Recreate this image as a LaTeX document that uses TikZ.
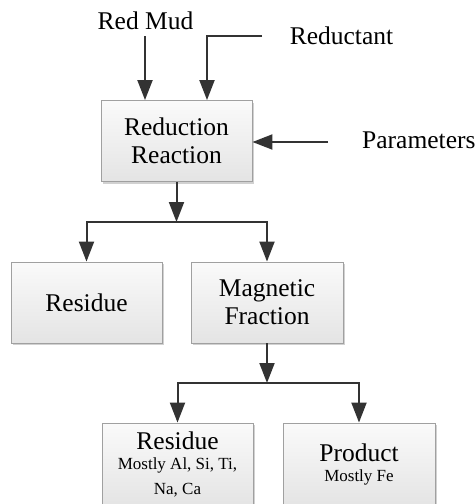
\documentclass[tikz,border=0pt]{standalone}
\usepackage{fontspec}
\setmainfont{Liberation Serif}
\usetikzlibrary{arrows.meta,shadows}
\definecolor{boxline}{HTML}{A0A0A0}
\definecolor{flow}{HTML}{333333}
\definecolor{boxtop}{HTML}{FAFAFA}
\definecolor{boxbot}{HTML}{E4E4E4}
\begin{document}
\begin{tikzpicture}[x=1pt,y=-1pt,
  stage/.style={draw=boxline, line width=0.9pt, top color=boxtop, bottom color=boxbot,
    minimum width=151pt, minimum height=81pt, inner sep=0pt, align=center,
    font=\fontsize{25.5}{28}\selectfont,
    drop shadow={shadow xshift=2pt, shadow yshift=-2pt, fill=black, opacity=0.18}},
  flowarrow/.style={draw=flow, line width=2pt, -{Triangle[length=20pt,width=15pt]}},
  tag/.style={font=\fontsize{25.5}{28}\selectfont, inner sep=0pt, anchor=base}
]
\useasboundingbox (0,0) rectangle (475,504);
\clip (0,0) rectangle (475,504);
\fill[white] (0,0) rectangle (475,504);

% process stages
\node[stage] (react) at (176.5,141) {Reduction\\Reaction};
\node[stage] (res1) at (86.5,302.5) {Residue};
\node[stage, minimum width=152pt] (mag) at (267,302.5) {Magnetic\\Fraction};
\node[stage, minimum height=83pt, font=\fontsize{25.5}{20}\selectfont] (res2) at (177.5,464.5)
  {Residue\\{\fontsize{17}{20}\selectfont Mostly Al, Si, Ti,}\\[5pt]{\fontsize{17}{20}\selectfont Na, Ca}};
\node[stage, minimum width=152pt, minimum height=83pt, font=\fontsize{25.5}{20}\selectfont] (prod) at (359,464.5)
  {Product\\{\fontsize{17}{20}\selectfont Mostly Fe}};

% inputs
\node[tag] (mud) at (145.5,29.3) {Red Mud};
\node[tag] (redu) at (341.5,44.3) {Reductant};
\node[tag, anchor=base west] (param) at (362,148.3) {Parameters};

\coordinate (mudout) at (145,36);
\coordinate (reduout) at (262,36);
\coordinate (reduin) at (207,36);
\coordinate (paramout) at (328,142);
\coordinate (split1) at (177,222);
\coordinate (split2) at (268,383);

\draw[flowarrow] (mudout) -- (mudout |- react.north);
\draw[flowarrow] (reduout) -- (reduin) -- (reduin |- react.north);
\draw[flowarrow] (paramout) -- (paramout -| react.east);

% first separation
\draw[flowarrow] (react.south) -- (react.south |- split1);
\draw[flowarrow] (split1) -| (res1.north);
\draw[flowarrow] (split1) -| (mag.north);

% magnetic separation
\draw[flowarrow] (mag.south) -- (mag.south |- split2);
\draw[flowarrow] (split2) -| (res2.north);
\draw[flowarrow] (split2) -| (prod.north);
\end{tikzpicture}
\end{document}
